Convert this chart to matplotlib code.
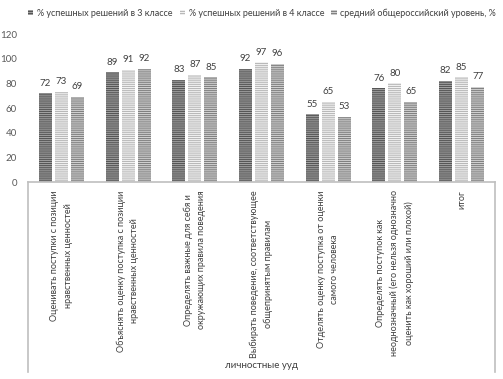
import matplotlib
matplotlib.use("Agg")
import matplotlib.pyplot as plt
from matplotlib.lines import Line2D
import numpy as np

categories = [
    "Оценивать поступки с позиции\nнравственных ценностей",
    "Объяснять оценку поступка с позиции\nнравственных ценностей",
    "Определять важные для себя и\nокружающих правила поведения",
    "Выбирать поведение, соответствующее\nобщепринятым правилам",
    "Отделять оценку поступка от оценки\nсамого человека",
    "Определять поступок как\nнеоднозначный (его нельзя однозначно\nоценить как хороший или плохой)",
    "итог",
]
group_label = "личностные ууд"
series_names = [
    "% успешных решений в 3 классе",
    "% успешных решений в 4 классе",
    "средний общероссийский уровень, %",
]
grade3 = [72, 89, 83, 92, 55, 76, 82]
grade4 = [73, 91, 87, 97, 65, 80, 85]
average = [69, 92, 85, 96, 53, 65, 77]
yticks = [0, 20, 40, 60, 80, 100, 120]

plt.rcParams['font.family'] = ['Lato', 'DejaVu Sans']
plt.rcParams['hatch.linewidth'] = 0.75

fig = plt.figure(figsize=(5.03, 3.79), dpi=100)
ax = fig.add_axes([28/503, 1-182/379, (495-28)/503, (182-34)/379])

faces = ['#a0a0a0', '#f2f2f2', '#d0d0d0']
hatchc = ['#555555', '#b8b8b8', '#808080']
x = np.arange(len(categories))
w = 0.195
step = 0.24
data = [grade3, grade4, average]
for i, (vals, name) in enumerate(zip(data, series_names)):
    ax.bar(x + (i-1)*step, vals, width=w, color=faces[i], edgecolor=hatchc[i],
           linewidth=0, hatch='--------', label=name)
    for xi, v in zip(x + (i-1)*step, vals):
        ax.annotate(str(v), (xi, v), xytext=(0, 4), textcoords='offset points',
                    ha='center', va='bottom', fontsize=7, color='#404040')

ax.set_xlim(-0.5, len(categories)-0.5)
ax.set_ylim(0, 120)
ax.set_yticks(yticks)
ax.tick_params(axis='y', length=0, pad=8, labelsize=7, labelcolor='#595959')
ax.set_xticks([])
for s in ['top', 'right', 'left']:
    ax.spines[s].set_visible(False)
ax.spines['bottom'].set_color('#bfbfbf')
ax.spines['bottom'].set_linewidth(1.2)

for xi, c in zip(x, categories):
    ax.annotate(c, (xi, 0), xytext=(0, -6), textcoords='offset points',
                rotation=90, ha='center', va='top', multialignment='center',
                linespacing=1.65, fontsize=6.5, color='#404040', annotation_clip=False)

y0 = 1-182/379
y1 = 1-372/379
fig.add_artist(Line2D([28/503, 28/503], [y0, y1], color='#bfbfbf', lw=1.2))
fig.add_artist(Line2D([495/503, 495/503], [y0, y1], color='#bfbfbf', lw=1.2))
fig.text(261.5/503, 1-366/379, group_label, ha='center', va='center', fontsize=7, color='#404040')

fig.legend(loc='center', bbox_to_anchor=(262/503, 1-13/379), ncol=3, frameon=False,
           fontsize=6.5, handlelength=0.6, handleheight=0.6, handletextpad=0.4,
           columnspacing=0.8, labelcolor='#404040')

fig.savefig('out.png', dpi=100)
